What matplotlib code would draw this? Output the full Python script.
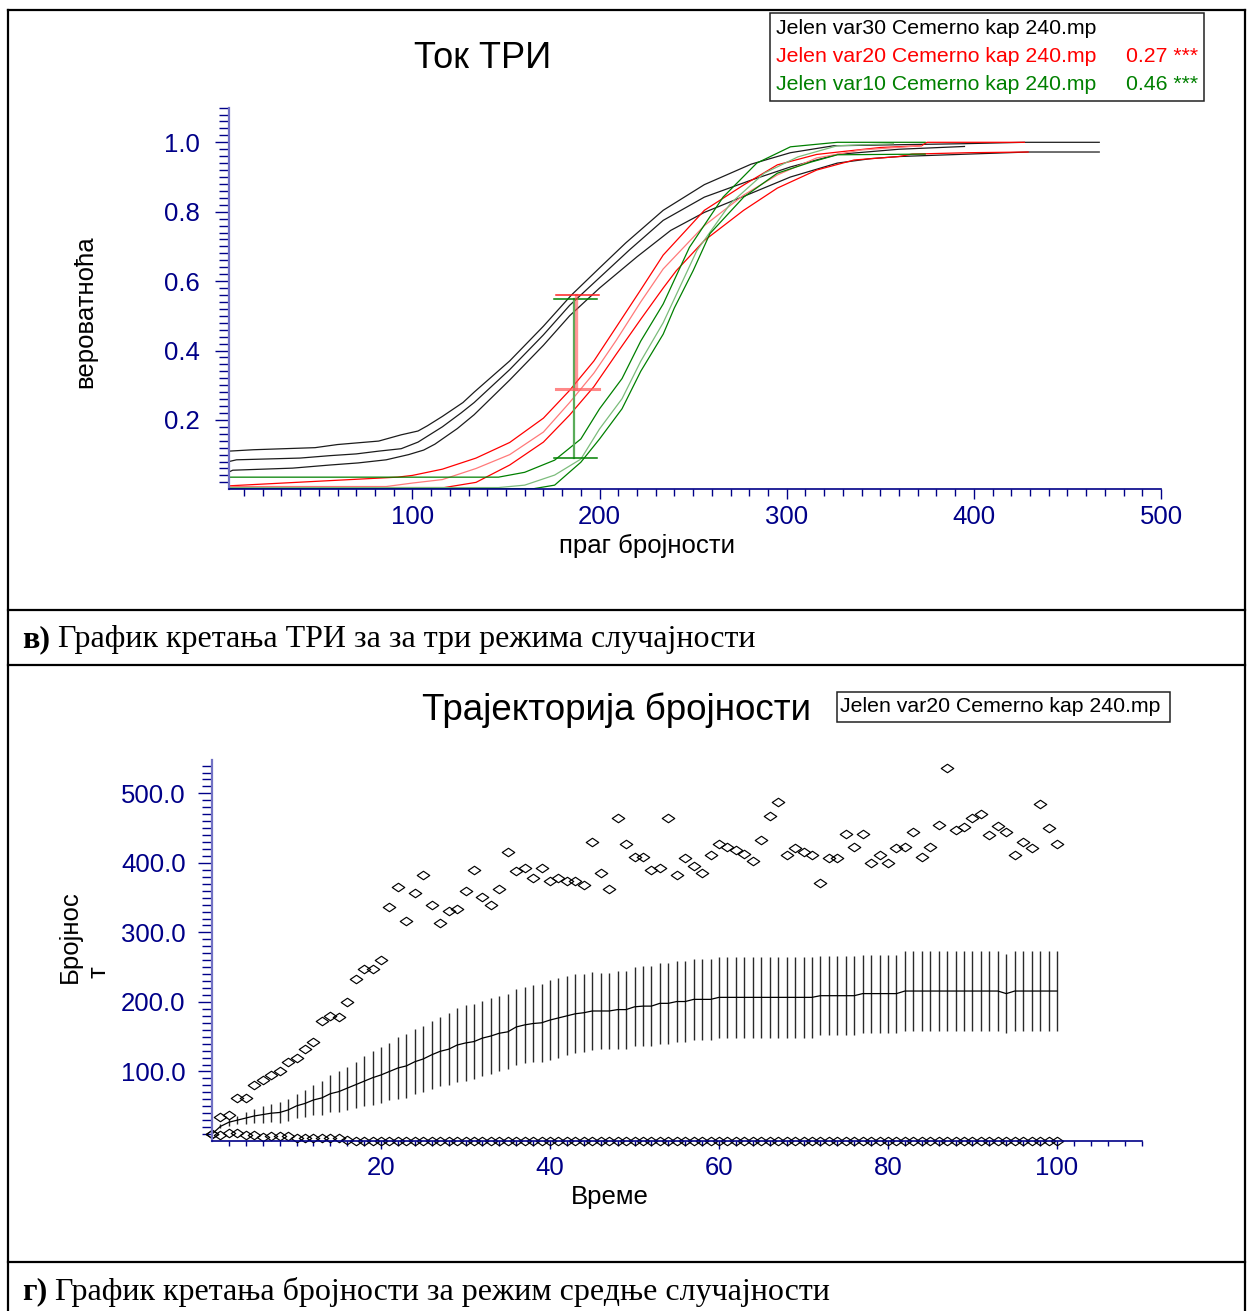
import numpy as np
import matplotlib
matplotlib.use("Agg")
import matplotlib.pyplot as plt
from matplotlib.patches import Rectangle
from matplotlib.lines import Line2D
from matplotlib.path import Path
from matplotlib.ticker import FixedLocator, FormatStrFormatter

# ---------------- data: probability curves (threshold -> probability) ----------------
# black: var30, red: var20, green: var10 ; upper / mean / lower curves
bu_x = [2, 15, 48, 60, 82, 94, 103, 108, 116, 127, 133, 152, 170, 185, 200, 214, 234, 256, 281, 302, 325, 395, 427, 467]
bu_y = [0.11, 0.114, 0.12, 0.129, 0.139, 0.157, 0.168, 0.183, 0.21, 0.25, 0.28, 0.37, 0.47, 0.56, 0.638, 0.71, 0.804, 0.878, 0.937, 0.97, 0.99, 0.996, 1.0, 1.0]
bm_x = [2, 6, 40, 56, 70, 82, 94, 103, 116, 126, 133, 152, 170, 184, 200, 216, 234, 256, 281, 302, 327, 360, 395]
bm_y = [0.08, 0.085, 0.09, 0.097, 0.102, 0.11, 0.117, 0.136, 0.18, 0.22, 0.25, 0.345, 0.445, 0.53, 0.61, 0.69, 0.775, 0.842, 0.891, 0.929, 0.965, 0.98, 0.988]
bl_x = [2, 4, 36, 56, 71, 86, 98, 106, 112, 124, 133, 152, 170, 184, 200, 220, 238, 256, 281, 302, 327, 345, 360, 397, 429, 467]
bl_y = [0.05, 0.055, 0.061, 0.07, 0.076, 0.085, 0.1, 0.113, 0.13, 0.175, 0.215, 0.315, 0.415, 0.5, 0.58, 0.67, 0.746, 0.798, 0.853, 0.90, 0.94, 0.953, 0.959, 0.966, 0.972, 0.972]

ru_x = [2, 92, 100, 116, 134, 152, 170, 184, 197, 208, 222, 234, 256, 277, 295, 316, 331, 350, 372, 375, 427]
ru_y = [0.01, 0.035, 0.04, 0.058, 0.09, 0.135, 0.205, 0.285, 0.37, 0.46, 0.575, 0.675, 0.804, 0.877, 0.935, 0.965, 0.974, 0.985, 0.99, 1.0, 1.0]
rm_x = [2, 86, 100, 116, 134, 152, 170, 184, 197, 209, 222, 234, 256, 277, 295, 316, 340, 372]
rm_y = [0.008, 0.008, 0.018, 0.028, 0.06, 0.1, 0.165, 0.25, 0.335, 0.43, 0.54, 0.635, 0.76, 0.848, 0.906, 0.955, 0.978, 0.99]
rl_x = [2, 117, 134, 152, 170, 184, 197, 209, 222, 234, 241, 256, 277, 295, 316, 336, 360, 367, 397, 429]
rl_y = [0.005, 0.005, 0.02, 0.07, 0.136, 0.214, 0.296, 0.39, 0.49, 0.58, 0.63, 0.717, 0.804, 0.868, 0.92, 0.949, 0.959, 0.966, 0.97, 0.972]

gu_x = [2, 146, 160, 176, 190, 200, 212, 222, 234, 248, 266, 284, 302, 327, 374]
gu_y = [0.035, 0.035, 0.049, 0.084, 0.145, 0.232, 0.319, 0.427, 0.534, 0.697, 0.842, 0.94, 0.987, 1.0, 1.0]
gm_x = [2, 146, 160, 176, 190, 200, 212, 222, 234, 252, 270, 288, 306, 327, 357]
gm_y = [0.005, 0.005, 0.012, 0.041, 0.087, 0.174, 0.261, 0.369, 0.48, 0.688, 0.824, 0.911, 0.958, 0.99, 0.996]
gl_x = [2, 165, 176, 190, 200, 212, 222, 234, 240, 250, 259, 277, 295, 313, 327, 374]
gl_y = [0.002, 0.002, 0.012, 0.078, 0.145, 0.232, 0.34, 0.447, 0.523, 0.63, 0.737, 0.842, 0.911, 0.943, 0.964, 0.966]

# KS comparison bars: threshold, top of bar and D statistic
ks_x = 187
ks_red_top, ks_red_d = 0.56, 0.27
ks_green_top, ks_green_d = 0.549, 0.46

legend_top = ["Jelen var30 Cemerno kap 240.mp",
              "Jelen var20 Cemerno kap 240.mp",
              "Jelen var10 Cemerno kap 240.mp"]

# ---------------- data: abundance trajectory ----------------
time = np.arange(0, 101)
traj_max = [10, 34, 38, 62, 62, 80, 88, 95, 100, 114,
            120, 132, 143, 172, 180, 178, 200, 233, 247, 247,
            261, 337, 366, 316, 357, 383, 339, 314, 331, 334,
            360, 390, 351, 339, 362, 415, 389, 392, 378, 392,
            374, 378, 374, 374, 368, 430, 386, 362, 464, 427,
            409, 409, 390, 392, 464, 383, 407, 395, 386, 412,
            427, 423, 418, 413, 403, 433, 467, 487, 412, 421,
            415, 412, 371, 407, 407, 441, 423, 441, 400, 412,
            400, 421, 423, 444, 409, 423, 454, 536, 447, 452,
            464, 470, 440, 453, 444, 412, 430, 421, 485, 450,
            427]
traj_min = [10, 9, 12, 12, 9, 9, 6, 7, 7, 7,
            5, 5, 5, 4, 5, 4, 1, 0, 0, 0,
            0, 0, 0, 0, 0, 0, 0, 0, 0, 0,
            0, 0, 0, 0, 0, 0, 0, 0, 0, 0,
            0, 0, 0, 0, 0, 0, 0, 0, 0, 0,
            0, 0, 0, 0, 0, 0, 0, 0, 0, 0,
            0, 0, 0, 0, 0, 0, 0, 0, 0, 0,
            0, 0, 0, 0, 0, 0, 0, 0, 0, 0,
            0, 0, 0, 0, 0, 0, 0, 0, 0, 0,
            0, 0, 0, 0, 0, 0, 0, 0, 0, 0,
            0]
traj_mean = [10, 21, 27, 30, 33, 36, 38, 40, 41, 44.6,
             50.5, 54, 59, 62, 68, 71, 76, 81, 86, 91,
             95, 100, 105, 108, 114, 118, 124, 129, 132, 138,
             141, 143, 148, 151, 155, 157, 164, 167, 169, 170,
             174, 177, 180, 183, 184.5, 187, 187, 187, 189, 189,
             193, 194, 194, 198, 198, 200.6, 200.6, 203.7, 203.7, 203.7,
             206.6, 206.6, 206.6, 206.6, 206.6, 206.6, 206.6, 206.6, 206.6, 206.6,
             206.6, 206.6, 209, 209, 209, 209, 209, 212, 212, 212,
             212, 212, 215.7, 215.7, 215.7, 215.7, 215.7, 215.7, 215.7, 215.7,
             215.7, 215.7, 215.7, 215.7, 212, 215.7, 215.7, 215.7, 215.7, 215.7,
             215.7]
traj_sd = [0, 3, 5, 6, 8, 10, 12, 13, 15, 16,
           17, 20, 22, 24, 27, 29, 31, 33, 36, 39,
           40, 41, 45, 46, 47, 47, 49, 50, 52, 53,
           54, 54, 54, 54, 54, 54, 55, 55, 56, 56,
           57, 57, 57, 57, 56, 56, 55, 55, 56, 56,
           57, 57, 57, 58, 58, 58, 58, 58, 58, 58,
           58, 58, 58, 58, 58, 58, 58, 58, 58, 58,
           58, 58, 57, 57, 57, 57, 57, 56, 56, 56,
           56, 56, 57, 57, 57, 57, 57, 57, 57, 57,
           57, 57, 57, 57, 57, 57, 57, 57, 57, 57,
           57]
legend_bottom = "Jelen var20 Cemerno kap 240.mp"

# ---------------- figure ----------------
W, H = 1248, 1311
plt.rcParams['font.family'] = ['Liberation Sans', 'DejaVu Sans']
fig = plt.figure(figsize=(W / 100, H / 100), dpi=100)
SERIF = ['Liberation Serif', 'DejaVu Serif']
NAVY = '#000088'


def fx(x):
    return x / W


def fy(y):
    return 1 - y / H


def style_axes(ax):
    for s in ('top', 'right'):
        ax.spines[s].set_visible(False)
    ax.spines['left'].set_color('#7272c4')
    ax.spines['left'].set_linewidth(1.6)
    ax.spines['bottom'].set_color(NAVY)
    ax.spines['bottom'].set_linewidth(1.2)
    ax.tick_params(which='both', color=NAVY, labelcolor=NAVY, width=1.0,
                   labelsize=18.5, direction='out')


# ---- top: probability curves ----
ax1 = fig.add_axes([fx(229), fy(489.3), fx(1161) - fx(229), (489.3 - 107.6) / H])
ax1.set_xlim(2, 500)
ax1.set_ylim(0, 1.1)
style_axes(ax1)
ax1.xaxis.set_major_locator(FixedLocator([100, 200, 300, 400, 500]))
ax1.xaxis.set_minor_locator(FixedLocator(np.arange(10, 501, 10)))
ax1.yaxis.set_major_locator(FixedLocator([0.2, 0.4, 0.6, 0.8, 1.0]))
ax1.yaxis.set_minor_locator(FixedLocator(np.arange(0.02, 1.101, 0.02)))
ax1.xaxis.set_major_formatter(FormatStrFormatter('%d'))
ax1.yaxis.set_major_formatter(FormatStrFormatter('%.1f'))
ax1.tick_params(axis='y', which='major', length=10, pad=11)
ax1.tick_params(axis='y', which='minor', length=7)
ax1.tick_params(axis='x', which='major', length=7.5, pad=4)
ax1.tick_params(axis='x', which='minor', length=5)

lw = 0.9
for xs, ys in ((bu_x, bu_y), (bm_x, bm_y), (bl_x, bl_y)):
    ax1.plot(xs, ys, color='#1c1c1c', lw=lw)
ax1.plot(ru_x, ru_y, color='#ff0000', lw=lw)
ax1.plot(rm_x, rm_y, color='#ff7a7a', lw=lw)
ax1.plot(rl_x, rl_y, color='#ff0000', lw=lw)
ax1.plot(gu_x, gu_y, color='#008000', lw=lw)
ax1.plot(gm_x, gm_y, color='#7cbc7c', lw=lw)
ax1.plot(gl_x, gl_y, color='#008000', lw=lw)

cap = 11.5
# green bar
ax1.plot([ks_x - 0.5, ks_x - 0.5], [ks_green_top - ks_green_d, ks_green_top], color='#5aac5a', lw=1.6)
ax1.plot([ks_x - cap, ks_x + cap], [ks_green_top, ks_green_top], color='#008000', lw=1.1)
ax1.plot([ks_x - cap, ks_x + cap], [ks_green_top - ks_green_d] * 2, color='#008000', lw=1.1)
# red bar
ax1.plot([ks_x + 0.6, ks_x + 0.6], [ks_red_top - ks_red_d, ks_red_top], color='#ff5050', lw=2.4, alpha=0.6)
ax1.plot([ks_x - cap + 1, ks_x + cap + 1], [ks_red_top, ks_red_top], color='#ff2020', lw=1.1)
ax1.plot([ks_x - cap + 1, ks_x + cap + 1], [ks_red_top - ks_red_d] * 2, color='#ff6060', lw=2.2, alpha=0.75)

fig.text(fx(483), fy(58), 'Ток ТРИ', ha='center', va='center', fontsize=26)
fig.text(fx(647), fy(546), 'праг бројности', ha='center', va='center', fontsize=18.5)
fig.text(fx(85), fy(312), 'вероватноћа', ha='center', va='center', rotation=90, fontsize=18.5)

fig.add_artist(Rectangle((fx(770), fy(101)), fx(1204) - fx(770), (101 - 13) / H,
                         transform=fig.transFigure, fill=False, ec='#222222', lw=1.1))
leg_cols = ['black', '#ff0000', '#008000']
leg_y = [29, 57, 84]
for txt, col, yy in zip(legend_top, leg_cols, leg_y):
    fig.text(fx(776), fy(yy), txt, color=col, ha='left', va='center', fontsize=15.3)
fig.text(fx(1198), fy(57), f'{ks_red_d:.2f} ***', color='#ff0000', ha='right', va='center', fontsize=15.3)
fig.text(fx(1198), fy(84), f'{ks_green_d:.2f} ***', color='#008000', ha='right', va='center', fontsize=15.3)

# ---- bottom: abundance trajectory ----
ax2 = fig.add_axes([fx(212), fy(1141), (1141.5 - 212) / W, (1141 - 760) / H])
ax2.set_xlim(0, 110)
ax2.set_ylim(0, 548)
style_axes(ax2)
ax2.xaxis.set_major_locator(FixedLocator([20, 40, 60, 80, 100]))
ax2.xaxis.set_minor_locator(FixedLocator(np.arange(2, 111, 2)))
ax2.yaxis.set_major_locator(FixedLocator([100, 200, 300, 400, 500]))
ax2.yaxis.set_minor_locator(FixedLocator(np.arange(10, 541, 10)))
ax2.xaxis.set_major_formatter(FormatStrFormatter('%d'))
ax2.yaxis.set_major_formatter(FormatStrFormatter('%.1f'))
ax2.tick_params(axis='y', which='major', length=10, pad=9)
ax2.tick_params(axis='y', which='minor', length=7)
ax2.tick_params(axis='x', which='major', length=6, pad=5)
ax2.tick_params(axis='x', which='minor', length=3.6)

mean_arr = np.array(traj_mean)
sd_arr = np.array(traj_sd)
ax2.vlines(time[1:], (mean_arr - sd_arr)[1:], (mean_arr + sd_arr)[1:], color='#2a2a2a', lw=1.0)
ax2.plot(time, mean_arr, color='black', lw=0.9)

diamond = Path([(-1, 0), (0, 0.68), (1, 0), (0, -0.68), (-1, 0)],
               [Path.MOVETO, Path.LINETO, Path.LINETO, Path.LINETO, Path.CLOSEPOLY])
for series in (traj_max, traj_min):
    ax2.plot(time, series, ls='none', marker=diamond, ms=9, mfc='none', mec='black',
             mew=0.85, clip_on=False)

fig.text(fx(617), fy(710), 'Трајекторија бројности', ha='center', va='center', fontsize=26.5)
fig.add_artist(Rectangle((fx(837), fy(722)), fx(1170) - fx(837), (722 - 692) / H,
                         transform=fig.transFigure, fill=False, ec='#222222', lw=1.1))
fig.text(fx(840), fy(707), legend_bottom, ha='left', va='center', fontsize=15.3)
fig.text(fx(610), fy(1197), 'Време', ha='center', va='center', fontsize=18.5)
fig.text(fx(70), fy(937), 'Бројнос', ha='center', va='center', rotation=90, fontsize=18.5)
fig.text(fx(99), fy(972), 'т', ha='center', va='center', rotation=90, fontsize=18.5)

# ---- table frame ----
frame_kw = dict(transform=fig.transFigure, color='black', lw=1.6)
for yy in (10, 610, 665, 1262):
    fig.add_artist(Line2D([fx(8), fx(1245)], [fy(yy), fy(yy)], **frame_kw))
for xx in (8, 1245):
    fig.add_artist(Line2D([fx(xx), fx(xx)], [fy(10), fy(1311)], **frame_kw))

# ---- captions ----
renderer = fig.canvas.get_renderer()
captions = [(640, 'в)', ' График кретања ТРИ за за три режима случајности'),
            (1292, 'г)', ' График кретања бројности за режим средње случајности')]
for yy, head, body in captions:
    t_head = fig.text(fx(22), fy(yy), head, ha='left', va='center', fontsize=23,
                      fontweight='bold', family=SERIF)
    bb = t_head.get_window_extent(renderer=renderer)
    fig.text(bb.x1 / fig.bbox.width, fy(yy), body, ha='left', va='center', fontsize=23,
             family=SERIF)

fig.savefig('out.png', dpi=100)
